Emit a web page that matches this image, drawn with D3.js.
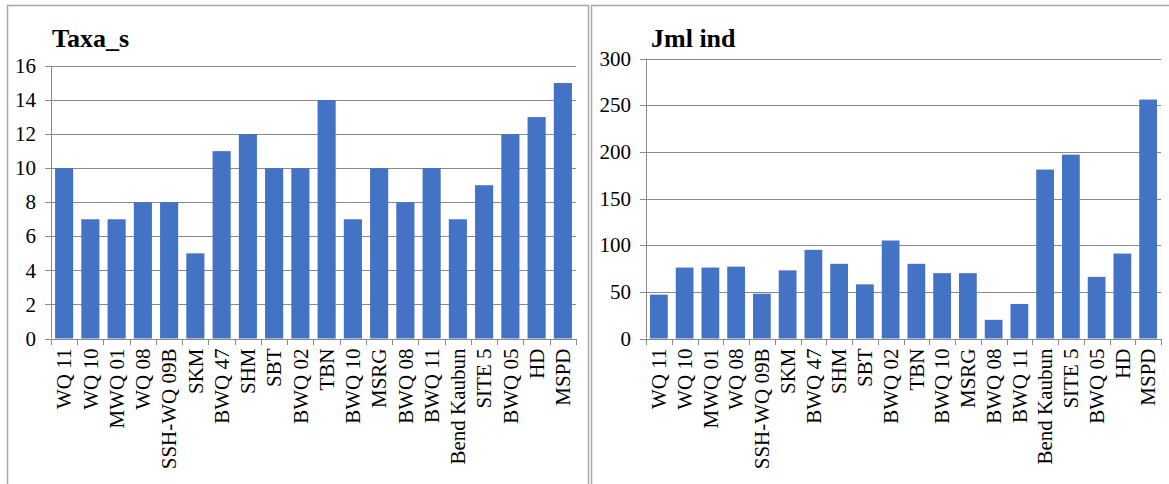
<!DOCTYPE html>
<html>
<head>
<meta charset="utf-8">
<script src="https://cdn.jsdelivr.net/npm/d3@7"></script>
<style>
  html, body { margin: 0; padding: 0; background: #fff; }
  svg { display: block; }
  svg text { font-family: "Liberation Serif"; }
</style>
</head>
<body>
<svg id="chart" width="1169" height="484"></svg>
<script>
// Sampling stations (shared by both panels)
const stations = ["WQ 11", "WQ 10", "MWQ 01", "WQ 08", "SSH-WQ 09B", "SKM", "BWQ 47", "SHM", "SBT",
  "BWQ 02", "TBN", "BWQ 10", "MSRG", "BWQ 08", "BWQ 11", "Bend Kaubun", "SITE 5", "BWQ 05", "HD", "MSPD"];

// Number of taxa per station
const taxaValues = [10, 7, 7, 8, 8, 5, 11, 12, 10, 10, 14, 7, 10, 8, 10, 7, 9, 12, 13, 15];
const taxaTicks = [0, 2, 4, 6, 8, 10, 12, 14, 16];

// Number of individuals per station
const jmlValues = [47, 76, 76, 77, 48, 73, 95, 80, 58, 105, 80, 70, 70, 20, 37, 181, 197, 66, 91, 256];
const jmlTicks = [0, 50, 100, 150, 200, 250, 300];

const svg = d3.select("#chart");
const serif = '"Liberation Serif"';
const barColor = "#4472C4";
const gridColor = "#8a8a8a";
const frameColor = "#a9a9a9";

function panel(opts) {
  const g = svg.append("g");

  // panel frame
  g.append("rect")
    .attr("x", opts.frame[0]).attr("y", opts.frame[1])
    .attr("width", opts.frame[2]).attr("height", opts.frame[3])
    .attr("fill", "none").attr("stroke", frameColor).attr("stroke-width", 1.5);

  const x = d3.scaleBand()
    .domain(stations)
    .range([opts.left, opts.right])
    .paddingInner(0.31)
    .paddingOuter(0.155);

  const y = d3.scaleLinear()
    .domain([opts.ticks[0], opts.ticks[opts.ticks.length - 1]])
    .range([opts.bottom, opts.top]);

  // horizontal gridlines with left tick marks
  g.append("g")
    .selectAll("line")
    .data(opts.ticks)
    .join("line")
    .attr("x1", opts.left - 6).attr("x2", opts.right)
    .attr("y1", d => Math.round(y(d)) + 0.5).attr("y2", d => Math.round(y(d)) + 0.5)
    .attr("stroke", gridColor).attr("stroke-width", 1);

  // y tick labels
  g.append("g")
    .selectAll("text")
    .data(opts.ticks)
    .join("text")
    .attr("x", opts.left - 15)
    .attr("y", d => y(d))
    .attr("dy", "0.34em")
    .attr("text-anchor", "end")
    .style("font-family", serif)
    .style("font-size", "21px")
    .text(d => d);

  // bars
  g.append("g")
    .selectAll("rect")
    .data(opts.values)
    .join("rect")
    .attr("x", (d, i) => x(stations[i]))
    .attr("width", x.bandwidth())
    .attr("y", d => y(d))
    .attr("height", d => y(0) - y(d))
    .attr("fill", barColor);

  // vertical axis line
  g.append("line")
    .attr("x1", opts.left + 0.5).attr("x2", opts.left + 0.5)
    .attr("y1", opts.top).attr("y2", opts.bottom)
    .attr("stroke", gridColor);

  // category axis with ticks between bands
  const edges = stations.map(s => x(s) - x.step() * x.paddingInner() / 2);
  edges.push(opts.right);
  g.append("g")
    .selectAll("line")
    .data(edges)
    .join("line")
    .attr("x1", d => Math.round(d) + 0.5).attr("x2", d => Math.round(d) + 0.5)
    .attr("y1", Math.round(y(0))).attr("y2", Math.round(y(0)) + 6)
    .attr("stroke", gridColor);

  // category labels, rotated
  g.append("g")
    .selectAll("text")
    .data(stations)
    .join("text")
    .attr("transform", d => `translate(${x(d) + x.bandwidth() / 2},${y(0) + 10}) rotate(-90)`)
    .attr("dy", "0.34em")
    .attr("text-anchor", "end")
    .style("font-family", serif)
    .style("font-size", "21px")
    .text(d => d);

  // title
  g.append("text")
    .attr("x", opts.titleX).attr("y", 47)
    .style("font-family", serif)
    .style("font-size", "26px")
    .style("font-weight", "bold")
    .text(opts.title);
}

panel({
  frame: [7.5, 5.5, 581, 500],
  left: 51, right: 576, top: 66, bottom: 338.5,
  ticks: taxaTicks, values: taxaValues,
  title: "Taxa_s", titleX: 52
});

panel({
  frame: [591.5, 5.5, 600, 500],
  left: 646, right: 1161, top: 58.5, bottom: 338.5,
  ticks: jmlTicks, values: jmlValues,
  title: "Jml ind", titleX: 651
});
</script>
</body>
</html>
